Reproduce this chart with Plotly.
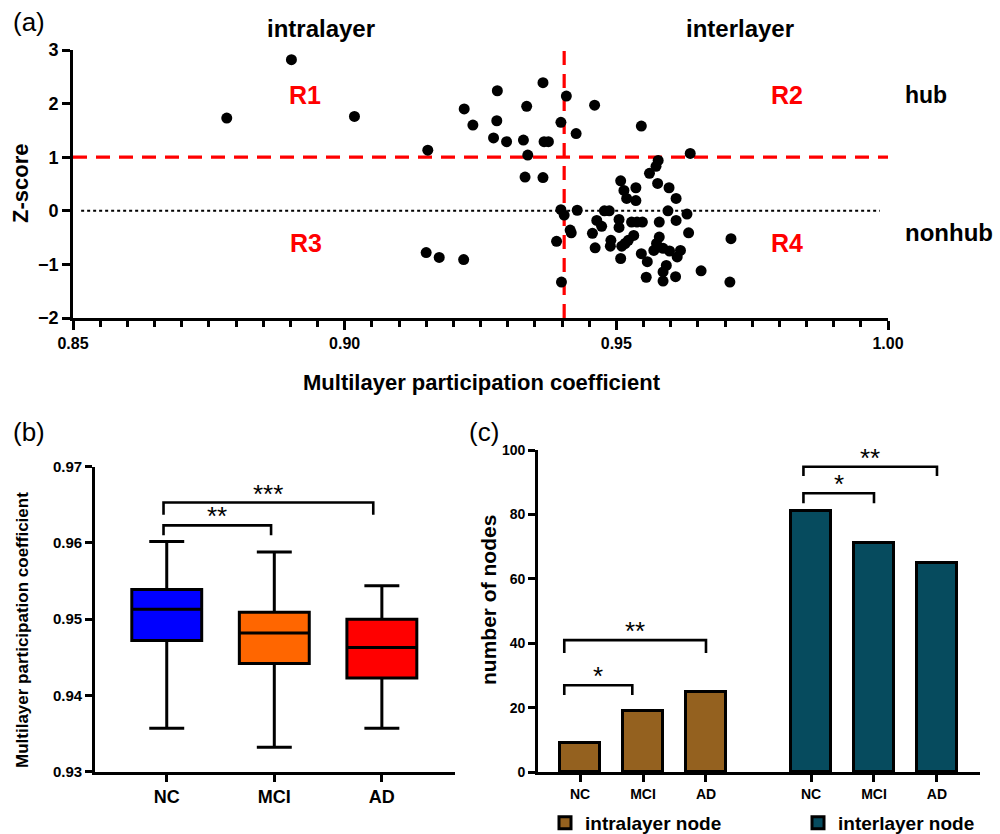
import plotly.graph_objects as go

# ---------------- Panel (a) data ----------------
mpc_x = [0.8783, 0.8902, 0.9018, 0.9153, 0.9220, 0.9236, 0.9281, 0.9280, 0.9274,
         0.9298, 0.9329, 0.9335, 0.9337, 0.9365, 0.9367, 0.9375, 0.9398, 0.9408,
         0.9426, 0.9460, 0.9546, 0.9636, 0.9332, 0.9365,
         0.9150, 0.9174, 0.9219, 0.9390, 0.9399, 0.9398, 0.9404, 0.9428, 0.9415, 0.9417,
         0.9577, 0.9573, 0.9561, 0.9508, 0.9536, 0.9576, 0.9597, 0.9514, 0.9519,
         0.9536, 0.9610, 0.9478, 0.9487, 0.9595, 0.9630, 0.9464, 0.9473, 0.9505,
         0.9528, 0.9538, 0.9548, 0.9579, 0.9610, 0.9505, 0.9456, 0.9532, 0.9579,
         0.9633, 0.9490, 0.9522, 0.9461, 0.9489, 0.9510, 0.9516, 0.9574, 0.9586,
         0.9569, 0.9598, 0.9618, 0.9546, 0.9612, 0.9508, 0.9557, 0.9592, 0.9586,
         0.9656, 0.9555, 0.9586, 0.9609, 0.9711, 0.9709]
z_score = [1.73, 2.82, 1.76, 1.13, 1.90, 1.60, 2.24, 1.68, 1.36,
           1.29, 1.32, 1.95, 1.04, 2.39, 1.29, 1.29, 1.65, 2.14,
           1.44, 1.97, 1.58, 1.07, 0.63, 0.62,
           -0.78, -0.87, -0.91, -0.57, -1.33, 0.02, -0.08, 0.01, -0.36, -0.41,
           0.94, 0.83, 0.70, 0.56, 0.43, 0.51, 0.43, 0.38, 0.23,
           0.19, 0.23, 0.00, 0.00, 0.00, -0.06, -0.18, -0.29, -0.16,
           -0.21, -0.21, -0.21, -0.21, -0.18, -0.31, -0.42, -0.46, -0.49,
           -0.41, -0.55, -0.55, -0.69, -0.66, -0.66, -0.61, -0.61, -0.70,
           -0.74, -0.75, -0.74, -0.80, -0.86, -0.89, -0.95, -1.02, -1.14,
           -1.12, -1.24, -1.31, -1.23, -0.52, -1.33]
mpc_threshold = 0.9404
z_threshold = 1.0
a_xticks = [0.85, 0.90, 0.95, 1.00]
a_yticks = [-2, -1, 0, 1, 2, 3]
region_labels = ["R1", "R2", "R3", "R4"]

# ---------------- Panel (b) data ----------------
groups = ["NC", "MCI", "AD"]
box_upper = [0.9602, 0.9588, 0.9544]
box_q3 = [0.9539, 0.9509, 0.9500]
box_median = [0.9513, 0.9482, 0.9463]
box_q1 = [0.9472, 0.9442, 0.9423]
box_lower = [0.9357, 0.9332, 0.9357]
box_colors = ["#0000FF", "#FF6600", "#FF0000"]
b_yticks = [0.93, 0.94, 0.95, 0.96, 0.97]
# (from, to, bar height, leg bottom, label)
b_sig = [(0, 1, 0.9623, 0.9610, "**"), (0, 2, 0.9653, 0.9637, "***")]

# ---------------- Panel (c) data ----------------
intra_counts = [9, 19, 25]
inter_counts = [81, 71, 65]
c_yticks = [0, 20, 40, 60, 80, 100]
intra_sig = [(0, 1, 27, 24, "*"), (0, 2, 41, 37, "**")]
inter_sig = [(0, 1, 86.6, 83.5, "*"), (0, 2, 94.8, 91.9, "**")]

FONT = "Liberation Sans, Arial, sans-serif"
BLACK = "#000000"
LW = 2.6
H = 834.0

fig = go.Figure()

# ---- (a) scatter
fig.add_trace(go.Scatter(x=mpc_x, y=z_score, mode="markers",
                         marker=dict(color=BLACK, size=11),
                         xaxis="x", yaxis="y", showlegend=False))

# ---- (b) boxes
for i, g in enumerate(groups):
    fig.add_trace(go.Box(x=[i], q1=[box_q1[i]], median=[box_median[i]], q3=[box_q3[i]],
                         lowerfence=[box_lower[i]], upperfence=[box_upper[i]],
                         fillcolor=box_colors[i], line=dict(color=BLACK, width=3),
                         width=0.65, whiskerwidth=0.5, boxpoints=False,
                         xaxis="x3", yaxis="y3", showlegend=False, name=g))

# ---- (c) bars
gap = 0.667
intra_pos = [i for i in range(len(groups))]
inter_pos = [len(groups) + gap + i for i in range(len(groups))]
fig.add_trace(go.Bar(x=intra_pos, y=intra_counts, width=0.635, name="intralayer node",
                     marker=dict(color="#94611F", line=dict(color=BLACK, width=3)),
                     xaxis="x4", yaxis="y4", legend="legend"))
fig.add_trace(go.Bar(x=inter_pos, y=inter_counts, width=0.635, name="interlayer node",
                     marker=dict(color="#064B5E", line=dict(color=BLACK, width=3)),
                     xaxis="x4", yaxis="y4", legend="legend2"))

shapes = []
annotations = []

# reference lines panel (a)
shapes.append(dict(type="line", xref="x", yref="y", x0=0.8515, x1=0.9985, y0=0, y1=0,
                   line=dict(color=BLACK, width=2, dash="dot"), layer="below"))
shapes.append(dict(type="line", xref="x", yref="y", x0=0.85, x1=1.0, y0=z_threshold, y1=z_threshold,
                   line=dict(color="#FF0000", width=3.2, dash="14px,9px"), layer="below"))
shapes.append(dict(type="line", xref="x", yref="y", x0=mpc_threshold, x1=mpc_threshold, y0=-2, y1=3,
                   line=dict(color="#FF0000", width=3.2, dash="14px,9px"), layer="below"))

# region labels
reg_pos = [(0.8927, 2.16), (0.9814, 2.16), (0.8929, -0.60), (0.9814, -0.60)]
for lab, (rx, ry) in zip(region_labels, reg_pos):
    annotations.append(dict(text=lab, x=rx, y=ry, xref="x", yref="y", showarrow=False,
                            font=dict(size=25, color="#FF0000", family=FONT, weight="bold")))

def bold(size):
    return dict(size=size, color=BLACK, family=FONT, weight="bold")

def ptext(text, px, py, font, xanchor="center", angle=0):
    annotations.append(dict(text=text, x=px / 1000.0, y=1 - py / H, xref="paper", yref="paper",
                            xanchor=xanchor, yanchor="middle", showarrow=False,
                            textangle=angle, font=font))

ptext("intralayer", 321, 28, bold(24))
ptext("interlayer", 740, 28, bold(24))
ptext("hub", 903, 95, bold(23), "left")
ptext("nonhub", 903, 232, bold(24), "left")
ptext("(a)", 11, 22, dict(size=26, color=BLACK, family=FONT), "left")
ptext("(b)", 11, 432, dict(size=26, color=BLACK, family=FONT), "left")
ptext("(c)", 467, 432, dict(size=26, color=BLACK, family=FONT), "left")
# axis titles
ptext("Z-score", 21, 184, bold(22), angle=-90)
ptext("Multilayer participation coefficient", 482, 382, bold(22))
ptext("Multilayer participation coefficient", 22, 630, bold(17), angle=-90)
ptext("number of nodes", 488, 600, bold(21), angle=-90)

def bracket(xr, yr, x0, x1, ytop, ybot, label, starsize):
    shapes.append(dict(type="path", xref=xr, yref=yr,
                       path=f"M {x0} {ybot} L {x0} {ytop} L {x1} {ytop} L {x1} {ybot}",
                       line=dict(color=BLACK, width=2.6)))
    annotations.append(dict(text=label, x=(x0 + x1) / 2, y=ytop, xref=xr, yref=yr,
                            yanchor="bottom", yshift=-8, showarrow=False,
                            font=dict(size=starsize, color=BLACK, family=FONT)))

for i, j, yt, yb, lab in b_sig:
    bracket("x3", "y3", i - 0.03, j - 0.03 - 0.05 * (j - i - 1), yt, yb, lab, 26)
for i, j, yt, yb, lab in intra_sig:
    bracket("x4", "y4", intra_pos[i] - 0.25, intra_pos[j] - 0.17 + 0.17 * (j - i - 1), yt, yb, lab, 26)
for i, j, yt, yb, lab in inter_sig:
    bracket("x4", "y4", inter_pos[i] - 0.12, inter_pos[j], yt, yb, lab, 26)

axis_common = dict(showgrid=False, zeroline=False, linecolor=BLACK, linewidth=LW,
                   tickcolor=BLACK, tickwidth=LW, showline=True, automargin=False)

legend_common = dict(orientation="h", y=1 - 823 / H, xanchor="left", yanchor="middle",
                     font=bold(19), bgcolor="rgba(0,0,0,0)", borderwidth=0)

fig.update_layout(
    width=1000, height=834,
    margin=dict(l=0, r=0, t=0, b=0, autoexpand=False),
    paper_bgcolor="white", plot_bgcolor="white",
    font=dict(family=FONT, color=BLACK),
    shapes=shapes, annotations=annotations,
    bargap=0,
    xaxis=dict(domain=[0.073, 0.888], range=[0.85, 1.0], anchor="y",
               tickvals=a_xticks, ticktext=[f"{v:.2f}" for v in a_xticks],
               ticks="outside", ticklen=9, tickfont=bold(16),
               minor=dict(dtick=0.005, tick0=0.85, ticks="outside", ticklen=6, tickwidth=LW, tickcolor=BLACK),
               **axis_common),
    xaxis2=dict(domain=[0.073, 0.888], range=[0.85, 1.0], anchor="y", overlaying="x", side="top",
                tickvals=a_xticks, showticklabels=False, ticks="inside", ticklen=9,
                minor=dict(dtick=0.005, tick0=0.85, ticks="inside", ticklen=6, tickwidth=LW, tickcolor=BLACK),
                **axis_common),
    yaxis=dict(domain=[1 - 318 / H, 1 - 50 / H], range=[-2, 3], anchor="x",
               tickvals=a_yticks, ticks="outside", ticklen=8, tickfont=bold(18),
               **axis_common),
    yaxis2=dict(domain=[1 - 318 / H, 1 - 50 / H], range=[-2, 3], anchor="x", overlaying="y", side="right",
                tickvals=[2, 1, -1], showticklabels=False, ticks="inside", ticklen=9,
                **axis_common),
    xaxis3=dict(domain=[0.095, 0.455], range=[-0.667, 2.68], anchor="y3",
                tickvals=list(range(len(groups))), ticktext=groups,
                ticks="outside", ticklen=7, tickfont=bold(18),
                **axis_common),
    yaxis3=dict(domain=[1 - 771.7 / H, 1 - 466.7 / H], range=[0.93, 0.97], anchor="x3",
                tickvals=b_yticks, ticktext=[f"{v:.2f}" for v in b_yticks],
                ticks="outside", ticklen=7, tickfont=bold(15),
                **axis_common),
    xaxis4=dict(domain=[0.538, 0.980], range=[-0.667, 6.35], anchor="y4",
                tickvals=intra_pos + inter_pos, ticktext=groups + groups,
                ticks="outside", ticklen=7, tickfont=bold(14),
                **axis_common),
    yaxis4=dict(domain=[1 - 772.3 / H, 1 - 450 / H], range=[0, 100], anchor="x4",
                tickvals=c_yticks, ticks="outside", ticklen=7, tickfont=bold(14),
                **axis_common),
    legend=dict(x=0.545, **legend_common),
    legend2=dict(x=0.798, **legend_common),
)

fig.write_html("out.html",
               config={"displayModeBar": False},
               post_script="document.body.style.margin='0';"
                           "document.documentElement.style.overflow='hidden';")
